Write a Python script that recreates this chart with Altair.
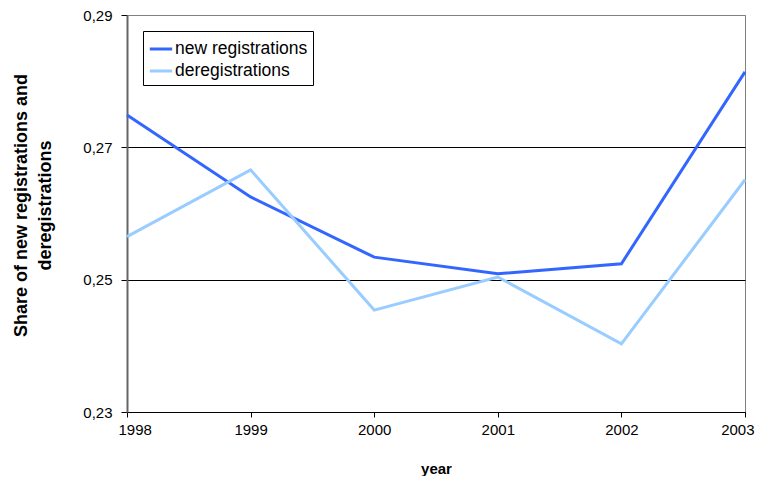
import altair as alt
import pandas as pd

years = [1998, 1999, 2000, 2001, 2002, 2003]
new_registrations = [0.2749, 0.2625, 0.2534, 0.2509, 0.2524, 0.2814]
deregistrations = [0.2565, 0.2666, 0.2454, 0.2504, 0.2403, 0.2651]
series_names = ["new registrations", "deregistrations"]
series_colors = ["#3366FF", "#99CCFF"]
y_ticks = [0.23, 0.25, 0.27, 0.29]

rows = []
for i, y in enumerate(years):
    rows.append({"year": y, "series": series_names[0], "value": new_registrations[i]})
    rows.append({"year": y, "series": series_names[1], "value": deregistrations[i]})
df = pd.DataFrame(rows)

FONT = "Liberation Sans"

chart = alt.Chart(df).mark_line(strokeWidth=3).encode(
    x=alt.X("year:Q",
            scale=alt.Scale(domain=[1998, 2003], nice=False, zero=False),
            axis=alt.Axis(values=years, format="d", title="year", grid=False,
                          labelFlush=True, labelFlushOffset=9,
                          domainColor="#000000", domainWidth=1,
                          tickColor="#000000", tickSize=5,
                          labelFontSize=15, labelPadding=5, labelColor="#000000",
                          labelFont=FONT, titleFont=FONT, titleFontSize=15,
                          titleFontWeight="bold", titleColor="#000000", titlePadding=24)),
    y=alt.Y("value:Q",
            scale=alt.Scale(domain=[0.23, 0.29], nice=False, zero=False),
            axis=alt.Axis(values=y_ticks,
                          labelExpr="replace(format(datum.value, '.2f'), '.', ',')",
                          labelFlush=False,
                          title=["Share of new registrations and", "deregistrations"],
                          grid=True,
                          gridColor={"condition": {"test": "datum.value >= 0.289", "value": "#808080"},
                                     "value": "#000000"},
                          gridWidth=1,
                          domainColor="#666666", domainWidth=2,
                          tickColor="#000000", tickSize=6,
                          labelFontSize=15, labelPadding=9, labelColor="#000000",
                          labelFont=FONT, titleFont=FONT, titleFontSize=18,
                          titleFontWeight="bold", titleColor="#000000", titlePadding=28,
                          titleLineHeight=24, titleY=190)),
    color=alt.Color("series:N",
                    scale=alt.Scale(domain=series_names, range=series_colors),
                    legend=alt.Legend(title=None, orient="none", legendX=16, legendY=16,
                                      strokeColor="#000000", padding=5,
                                      symbolType="stroke", symbolStrokeWidth=3,
                                      symbolSize=500, labelFontSize=17.5, labelFont=FONT,
                                      labelColor="#000000", rowPadding=0, labelOffset=1)),
).properties(
    width=618, height=397,
    autosize=alt.AutoSizeParams(type="none"),
    padding={"left": 119, "top": 7, "right": 12, "bottom": 64},
).configure_view(
    stroke="#808080", strokeWidth=1
)

chart.save("out.html", embed_options={"renderer": "svg", "actions": False})
